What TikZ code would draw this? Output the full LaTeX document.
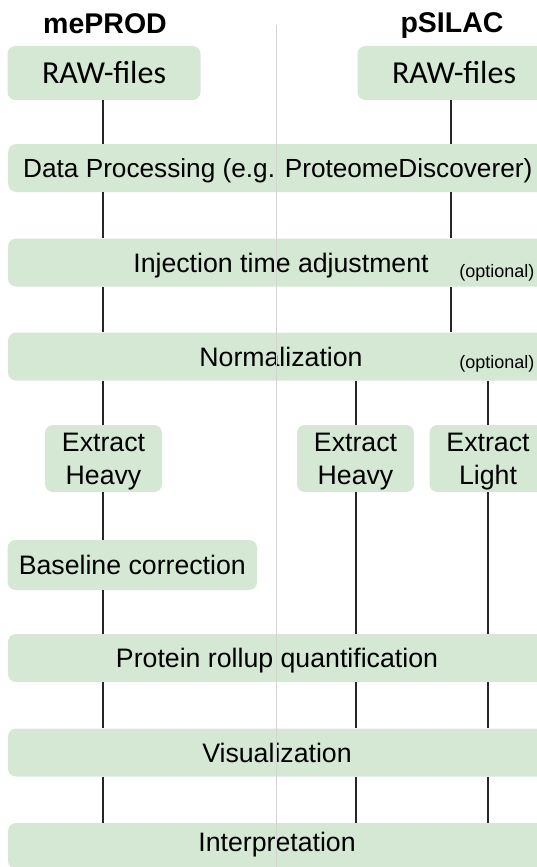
\documentclass[tikz,border=0pt]{standalone}
\usepackage{fontspec}
\setmainfont{Liberation Sans}
\newfontfamily\rawfont{Carlito}
\definecolor{boxgreen}{HTML}{D5E8D4}
\definecolor{sepgray}{HTML}{D3D3D3}
\begin{document}
\begin{tikzpicture}[x=1pt,y=-1pt,
  box/.style={fill=boxgreen, rounded corners=8pt, inner sep=0pt, align=center,
    font=\fontsize{26.7}{32.5}\selectfont, text height=19pt, text depth=0pt},
  two/.style={text height=51.5pt, text depth=0pt},
  raw/.style={font=\rawfont\fontsize{32}{36}\selectfont, text height=20.6pt, minimum width=193pt, minimum height=54pt},
  conn/.style={line width=1.4pt, black!85},
  sep/.style={line width=1.2pt, sepgray},
  ttl/.style={font=\fontsize{28.5}{32}\selectfont\bfseries, anchor=base},
  opt/.style={font=\fontsize{18}{20}\selectfont, anchor=east}]
\useasboundingbox (0,0) rectangle (537,867);
\coordinate (cL) at (103,0);
\coordinate (cR) at (451,0);
\coordinate (cH) at (356,0);
\coordinate (cG) at (488,0);
% titles
\node[ttl] (tM) at (105,34) {mePROD};
\node[ttl] (tP) at (452,33) {pSILAC};
% boxes
\node[box, raw] (rawL) at (104,73) {RAW-files};
\node[box, raw] (rawR) at (454,73) {RAW-files};
\node[box, anchor=west, minimum height=48pt, inner xsep=15pt, font=\fontsize{26.2}{32}\selectfont] (dp) at (8,168) {Data Processing (e.g. ProteomeDiscoverer)};
\node[box, minimum width=546pt, minimum height=48pt] (inj) at (281,262.5) {Injection time adjustment};
\node[opt] (optI) at (538,273) {(optional)};
\node[box, minimum width=546pt, minimum height=48pt] (norm) at (281,356.6) {Normalization};
\node[opt] (optN) at (538,364) {(optional)};
\node[box, two, minimum width=117pt, minimum height=67pt] (exL) at (103.5,458.5) {Extract\\Heavy};
\node[box, two, minimum width=117pt, minimum height=67pt] (exH) at (355.5,458.5) {Extract\\Heavy};
\node[box, two, minimum width=117pt, minimum height=67pt] (exG) at (488,458.5) {Extract\\Light};
\node[box, minimum width=249.5pt, minimum height=50pt] (base) at (132.3,565) {Baseline correction};
\node[box, minimum width=538pt, minimum height=48pt] (prot) at (277,658) {Protein rollup quantification};
\node[box, minimum width=538pt, minimum height=48pt] (vis) at (277,752.5) {Visualization};
\node[box, minimum width=538pt, minimum height=46pt, text depth=9pt] (interp) at (277,846) {Interpretation};
% left column
\draw[conn] (rawL.south -| cL) -- (dp.north -| cL);
\draw[conn] (dp.south -| cL) -- (inj.north -| cL);
\draw[conn] (inj.south -| cL) -- (norm.north -| cL);
\draw[conn] (norm.south -| cL) -- (exL.north -| cL);
\draw[conn] (exL.south -| cL) -- (base.north -| cL);
\draw[conn] (base.south -| cL) -- (prot.north -| cL);
\draw[conn] (prot.south -| cL) -- (vis.north -| cL);
\draw[conn] (vis.south -| cL) -- (interp.north -| cL);
% right column
\draw[conn] (rawR.south -| cR) -- (dp.north -| cR);
\draw[conn] (dp.south -| cR) -- (inj.north -| cR);
\draw[conn] (inj.south -| cR) -- (norm.north -| cR);
\draw[conn] (norm.south -| cH) -- (exH.north -| cH);
\draw[conn] (exH.south -| cH) -- (prot.north -| cH);
\draw[conn] (prot.south -| cH) -- (vis.north -| cH);
\draw[conn] (vis.south -| cH) -- (interp.north -| cH);
\draw[conn] (norm.south -| cG) -- (exG.north -| cG);
\draw[conn] (exG.south -| cG) -- (prot.north -| cG);
\draw[conn] (prot.south -| cG) -- (vis.north -| cG);
\draw[conn] (vis.south -| cG) -- (interp.north -| cG);
% separator
\coordinate (sT) at (276.5,25);
\coordinate (sB) at (276.5,867);
\draw[sep] (sT) -- (sB);
\end{tikzpicture}
\end{document}
